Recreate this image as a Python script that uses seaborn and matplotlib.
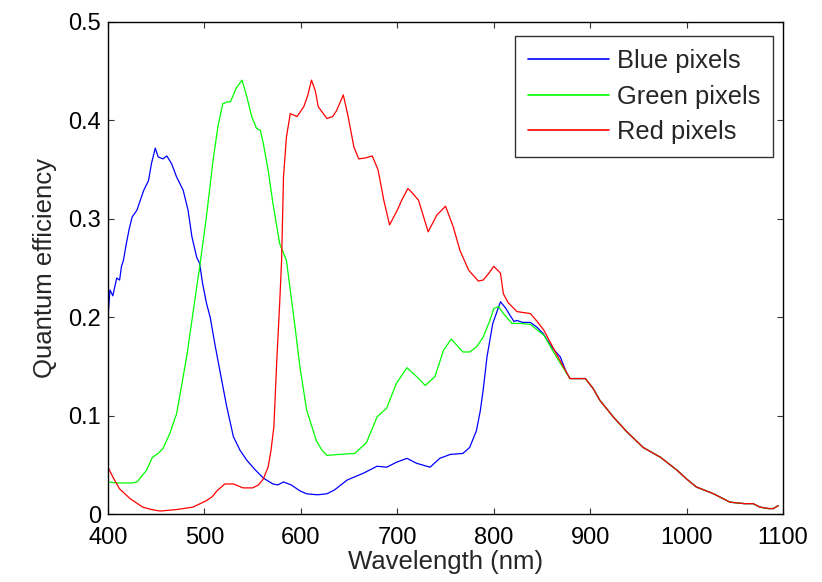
import pandas as pd
import matplotlib
matplotlib.use("Agg")
import matplotlib.pyplot as plt
import seaborn as sns

# --- data (wavelength in nm, quantum efficiency) ---
blue_wl = [400, 402, 405, 409, 412, 414, 416, 419, 422, 425, 430, 437, 442, 445,
           449, 452, 457, 461, 466, 471, 478, 483, 487, 492, 495, 498, 502, 506,
           511, 516, 523, 530, 537, 544, 552, 561, 571, 576, 582, 590, 599, 606,
           617, 627, 635, 648, 665, 679, 689, 699, 710, 720, 734, 744, 755, 768,
           775, 782, 786, 789, 793, 799, 807, 812, 817, 821, 824, 830, 838, 845,
           851, 860, 869, 875]
blue_qe = [0.200, 0.228, 0.222, 0.240, 0.238, 0.252, 0.258, 0.275, 0.290, 0.302,
           0.309, 0.329, 0.339, 0.356, 0.372, 0.363, 0.361, 0.364, 0.356, 0.343,
           0.329, 0.309, 0.282, 0.261, 0.255, 0.235, 0.215, 0.200, 0.172, 0.146,
           0.110, 0.079, 0.065, 0.055, 0.046, 0.037, 0.031, 0.030, 0.033, 0.030,
           0.024, 0.021, 0.020, 0.021, 0.025, 0.035, 0.042, 0.049, 0.048, 0.053,
           0.057, 0.052, 0.048, 0.057, 0.061, 0.062, 0.068, 0.085, 0.105, 0.126,
           0.160, 0.194, 0.216, 0.210, 0.202, 0.196, 0.197, 0.195, 0.195, 0.190,
           0.184, 0.170, 0.160, 0.145]

green_wl = [400, 410, 425, 430, 440, 446, 452, 457, 464, 471, 476, 482, 487, 492,
            495, 502, 509, 514, 519, 524, 527, 533, 539, 544, 549, 554, 558, 561,
            566, 571, 578, 585, 589, 594, 599, 606, 616, 622, 627, 640, 656, 668,
            679, 689, 699, 710, 720, 729, 739, 748, 756, 768, 775, 782, 789, 796,
            800, 805, 810, 819, 827, 838, 852, 865]
green_qe = [0.033, 0.032, 0.032, 0.033, 0.045, 0.058, 0.062, 0.067, 0.082, 0.102,
            0.129, 0.163, 0.197, 0.231, 0.251, 0.302, 0.360, 0.394, 0.417, 0.419,
            0.419, 0.433, 0.441, 0.424, 0.404, 0.392, 0.390, 0.377, 0.350, 0.316,
            0.275, 0.258, 0.228, 0.190, 0.150, 0.106, 0.075, 0.065, 0.060, 0.061,
            0.062, 0.073, 0.099, 0.108, 0.133, 0.149, 0.140, 0.131, 0.140, 0.167,
            0.178, 0.165, 0.165, 0.170, 0.180, 0.197, 0.209, 0.211, 0.204, 0.194,
            0.194, 0.193, 0.182, 0.160]

red_wl = [400, 405, 412, 423, 436, 445, 454, 471, 488, 502, 508, 513, 521, 530,
          540, 550, 556, 561, 566, 569, 572, 575, 578, 580, 582, 585, 589, 596,
          603, 607, 611, 615, 618, 627, 633, 637, 644, 649, 655, 660, 667, 674,
          680, 686, 692, 700, 705, 711, 716, 722, 727, 732, 741, 750, 758, 765,
          774, 784, 789, 795, 800, 807, 810, 815, 819, 824, 838, 845, 852, 865]
red_qe = [0.048, 0.038, 0.026, 0.016, 0.0075, 0.005, 0.0035, 0.005, 0.0075, 0.014,
          0.018, 0.024, 0.031, 0.031, 0.027, 0.027, 0.030, 0.036, 0.048, 0.065,
          0.089, 0.156, 0.214, 0.258, 0.343, 0.383, 0.407, 0.404, 0.414, 0.425,
          0.441, 0.430, 0.414, 0.402, 0.404, 0.410, 0.426, 0.404, 0.373, 0.361,
          0.362, 0.364, 0.350, 0.319, 0.294, 0.309, 0.320, 0.331, 0.326, 0.319,
          0.303, 0.287, 0.304, 0.313, 0.292, 0.268, 0.248, 0.237, 0.238, 0.245,
          0.252, 0.245, 0.224, 0.215, 0.211, 0.206, 0.204, 0.196, 0.187, 0.163]

# all three channels coincide in the near infrared
tail_wl = [879, 895, 903, 910, 924, 938, 955, 973, 990, 1000, 1010, 1028, 1045,
           1060, 1069, 1076, 1085, 1090, 1095]
tail_qe = [0.138, 0.138, 0.128, 0.116, 0.099, 0.084, 0.068, 0.058, 0.045, 0.036,
           0.028, 0.021, 0.0125, 0.011, 0.011, 0.0075, 0.006, 0.006, 0.009]

labels = ["Blue pixels", "Green pixels", "Red pixels"]
colors = ["#0000ff", "#00ff00", "#ff0000"]


def build_frame():
    parts = []
    for name, wl, qe in zip(labels, [blue_wl, green_wl, red_wl],
                            [blue_qe, green_qe, red_qe]):
        parts.append(pd.DataFrame({"wl": wl + tail_wl, "qe": qe + tail_qe,
                                   "series": name}))
    return pd.concat(parts, ignore_index=True)


sns.set_style("ticks")
plt.rcParams["font.family"] = ["Liberation Sans", "DejaVu Sans"]

df = build_frame()

fig = plt.figure(figsize=(8.22, 5.82), dpi=100)
ax = fig.add_axes([0.1314, 0.1160, 0.8212, 0.8462])

sns.lineplot(data=df, x="wl", y="qe", hue="series", hue_order=labels,
             palette=dict(zip(labels, colors)), estimator=None, sort=False,
             linewidth=0.9, ax=ax)

ax.set_xlim(400, 1100)
ax.set_ylim(0, 0.5)
ax.set_xticks(range(400, 1101, 100))
ax.set_yticks([0, 0.1, 0.2, 0.3, 0.4, 0.5])
ax.set_yticklabels(["0", "0.1", "0.2", "0.3", "0.4", "0.5"])
ax.tick_params(direction="in", length=4, width=0.8, top=True, right=True,
               labelsize=17, colors="#333333", labelcolor="black")
ax.tick_params(axis="x", pad=9)
ax.tick_params(axis="y", pad=5)
for sp in ax.spines.values():
    sp.set_visible(True)
    sp.set_color("black")
    sp.set_linewidth(1.0)

ax.set_xlabel("Wavelength (nm)", fontsize=18.5, labelpad=1)
ax.set_ylabel("Quantum efficiency", fontsize=18.5, labelpad=8)

leg = ax.legend(loc="upper right", bbox_to_anchor=(0.9855, 0.971), fontsize=18.4,
                frameon=True, fancybox=False, handlelength=3.2,
                handletextpad=0.3, labelspacing=0.45, borderpad=0.5,
                borderaxespad=0)
leg.get_frame().set_edgecolor("black")
leg.get_frame().set_linewidth(1.0)
for line in leg.get_lines():
    line.set_linewidth(1.2)

fig.savefig("out.png", dpi=100)
plt.close(fig)
